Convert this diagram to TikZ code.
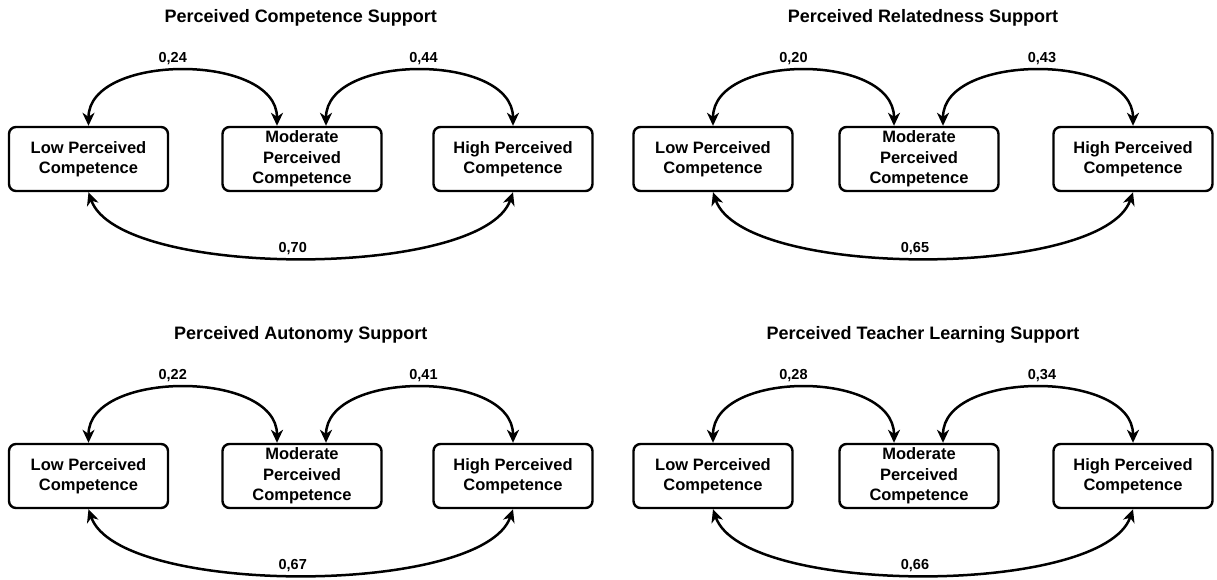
\documentclass[tikz,border=0pt]{standalone}
\usepackage{fontspec}
\setmainfont{Liberation Sans}
\usetikzlibrary{arrows.meta}
\tikzset{
  box/.style={draw, line width=2.4pt, rounded corners=7pt, minimum width=159pt,
    minimum height=64pt, inner sep=0pt, align=center,
    font=\fontsize{16.5}{20.5}\selectfont\bfseries},
  conn/.style={line width=2.5pt, {Stealth[length=13pt,width=12pt,inset=4pt]}-{Stealth[length=13pt,width=12pt,inset=4pt]}},
  ttl/.style={font=\fontsize{18}{22}\selectfont\bfseries, inner sep=0pt},
  lbl/.style={font=\fontsize{14.5}{17}\selectfont\bfseries, inner sep=0pt, anchor=base},
}
% #1 prefix, #2 y offset, #3 x low, #4 x moderate, #5 x high, #6 title, #7 #8 #9 values
\newcommand\drawpanel[9]{%
  \begin{scope}[shift={(0,#2)}]
    \node[ttl] (#1t) at ({(#3+#5)/2},18) {#6};
    \node[box] (#1l) at (#3,159) {Low Perceived\\Competence};
    \node[box] (#1m) at (#4,159) {Moderate\\Perceived\\Competence};
    \node[box] (#1h) at (#5,159) {High Perceived\\Competence};
    \draw[conn] (#1l.north) .. controls +(0,-73) and +(0,-73) ..
      node[lbl, pos=0.5, xshift=-10pt, yshift=8.5pt] (#1a) {#7}
      ([xshift=-25pt]#1m.north);
    \draw[conn] ([xshift=24pt]#1m.north) .. controls +(0,-73) and +(0,-73) ..
      node[lbl, pos=0.5, xshift=4pt, yshift=8.5pt] (#1b) {#8}
      (#1h.north);
    \draw[conn] (#1l.south) .. controls +(30,87) and +(-30,87) ..
      node[lbl, pos=0.5, xshift=-8pt, yshift=5pt] (#1c) {#9}
      (#1h.south);
  \end{scope}}
\begin{document}
\begin{tikzpicture}[x=1pt, y=-1pt]
  \useasboundingbox (0,0) rectangle (1217,579);
  \drawpanel{p}{0}{88.5}{302}{513}{Perceived Competence Support}{0,24}{0,44}{0,70}
  \drawpanel{q}{0}{713}{919}{1133}{Perceived Relatedness Support}{0,20}{0,43}{0,65}
  \drawpanel{r}{317}{88.5}{302}{513}{Perceived Autonomy Support}{0,22}{0,41}{0,67}
  \drawpanel{s}{317}{713}{919}{1133}{Perceived Teacher Learning Support}{0,28}{0,34}{0,66}
\end{tikzpicture}
\end{document}
